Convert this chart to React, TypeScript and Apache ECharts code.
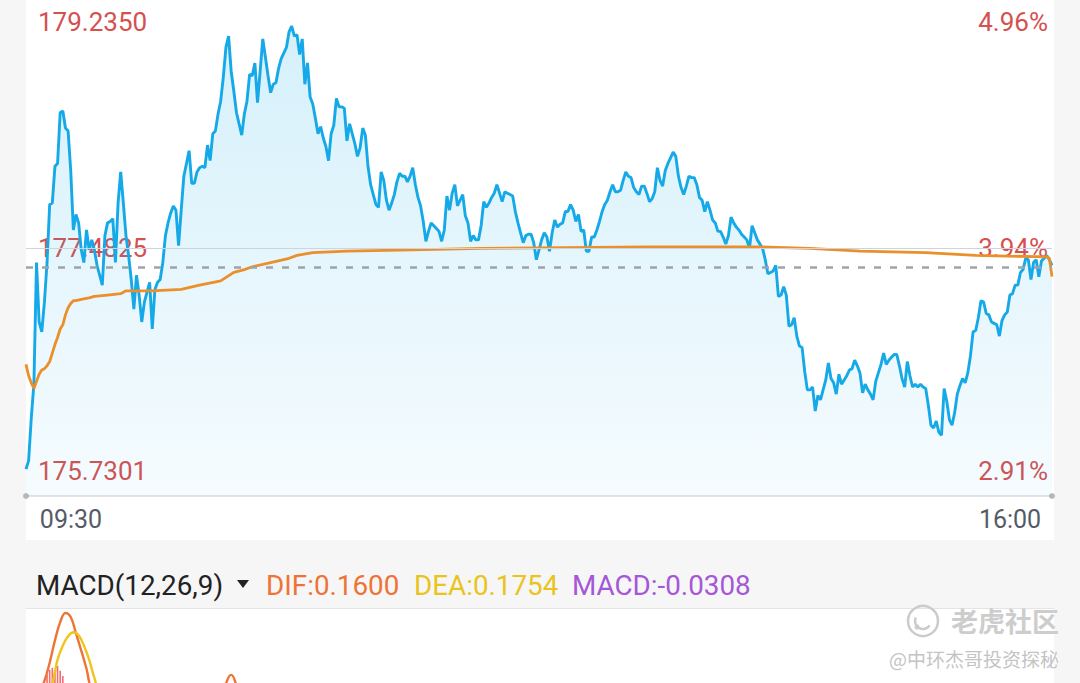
import React, { useEffect, useRef } from "react";
import * as echarts from "echarts";

// ---- price (one value per minute, 09:30 -> 16:00) ----
const PRICE: number[] = [
  175.92, 175.98, 176.28, 176.52, 177.38, 176.96, 176.89, 177.10, 177.38, 177.79,
  177.80, 178.06, 178.08, 178.44, 178.45, 178.33, 178.31, 178.03, 177.61, 177.72,
  177.66, 177.47, 177.38, 177.61, 177.47, 177.54, 177.47, 177.36, 177.29, 177.22,
  177.57, 177.66, 177.67, 177.69, 177.38, 177.80, 178.02, 177.80, 177.57, 177.43,
  177.26, 177.05, 177.29, 177.15, 176.96, 177.10, 177.17, 177.24, 176.91, 177.19,
  177.24, 177.26, 177.38, 177.57, 177.66, 177.73, 177.78, 177.75, 177.50, 177.75,
  177.99, 178.08, 178.17, 177.94, 177.94, 178.02, 178.05, 178.06, 178.05, 178.21,
  178.10, 178.29, 178.31, 178.43, 178.52, 178.69, 178.90, 178.98, 178.73, 178.59,
  178.44, 178.36, 178.28, 178.43, 178.52, 178.71, 178.70, 178.79, 178.51, 178.73,
  178.96, 178.83, 178.70, 178.58, 178.64, 178.65, 178.75, 178.82, 178.86, 178.90,
  179.01, 179.05, 178.98, 178.99, 178.85, 178.96, 178.64, 178.79, 178.55, 178.50,
  178.40, 178.29, 178.34, 178.26, 178.20, 178.10, 178.29, 178.35, 178.54, 178.48,
  178.48, 178.47, 178.24, 178.36, 178.29, 178.22, 178.13, 178.19, 178.33, 178.28,
  178.06, 177.93, 177.86, 177.79, 177.77, 178.02, 177.96, 177.82, 177.75, 177.80,
  177.86, 177.95, 178.01, 177.99, 177.99, 177.95, 177.99, 178.05, 177.93, 177.84,
  177.78, 177.67, 177.53, 177.60, 177.66, 177.64, 177.62, 177.60, 177.53, 177.61,
  177.85, 177.75, 177.87, 177.93, 177.78, 177.82, 177.86, 177.71, 177.66, 177.53,
  177.57, 177.54, 177.54, 177.64, 177.81, 177.77, 177.80, 177.84, 177.87, 177.93,
  177.87, 177.81, 177.88, 177.87, 177.86, 177.85, 177.74, 177.66, 177.59, 177.52,
  177.57, 177.58, 177.58, 177.52, 177.40, 177.47, 177.54, 177.59, 177.56, 177.46,
  177.59, 177.68, 177.63, 177.65, 177.66, 177.74, 177.74, 177.79, 177.75, 177.67,
  177.72, 177.60, 177.61, 177.46, 177.46, 177.56, 177.56, 177.61, 177.67, 177.74,
  177.79, 177.82, 177.88, 177.93, 177.88, 177.88, 177.89, 177.96, 178.02, 177.99,
  177.98, 177.91, 177.88, 177.86, 177.92, 177.92, 177.87, 177.81, 177.83, 177.88,
  178.05, 177.96, 177.92, 178.03, 178.08, 178.12, 178.16, 178.13, 177.99, 177.91,
  177.86, 177.92, 177.99, 177.98, 177.98, 177.93, 177.84, 177.82, 177.74, 177.81,
  177.75, 177.68, 177.66, 177.60, 177.60, 177.56, 177.51, 177.57, 177.70, 177.66,
  177.63, 177.61, 177.58, 177.56, 177.54, 177.48, 177.64, 177.59, 177.54, 177.51,
  177.48, 177.40, 177.30, 177.31, 177.32, 177.36, 177.14, 177.15, 177.21, 177.15,
  176.93, 176.94, 176.99, 176.86, 176.79, 176.78, 176.61, 176.48, 176.48, 176.50,
  176.33, 176.44, 176.41, 176.48, 176.55, 176.67, 176.56, 176.53, 176.45, 176.59,
  176.52, 176.55, 176.58, 176.62, 176.63, 176.69, 176.65, 176.60, 176.46, 176.52,
  176.48, 176.45, 176.41, 176.54, 176.60, 176.66, 176.74, 176.66, 176.69, 176.71,
  176.73, 176.73, 176.65, 176.56, 176.50, 176.68, 176.58, 176.50, 176.52, 176.50,
  176.52, 176.50, 176.49, 176.37, 176.23, 176.21, 176.26, 176.18, 176.16, 176.49,
  176.40, 176.27, 176.23, 176.32, 176.45, 176.51, 176.56, 176.53, 176.60, 176.72,
  176.89, 176.90, 176.99, 177.11, 177.10, 177.02, 177.01, 176.96, 176.95, 176.94,
  176.86, 176.97, 177.01, 177.03, 177.15, 177.16, 177.22, 177.22, 177.31, 177.33,
  177.41, 177.40, 177.26, 177.38, 177.40, 177.28, 177.39, 177.41, 177.43, 177.40,
  177.36,
];

// ---- average price line ----
const AVG_MINUTES: number[] = [
  0, 1, 2, 3, 4, 5, 6, 7, 8, 9, 10, 11, 12, 13, 14, 15, 16, 17, 18, 19, 21, 24, 26, 31,
  36, 38, 48, 59, 66, 74, 79, 83, 86, 93, 100, 103, 109, 122, 147, 173, 237, 279, 298,
  317, 342, 361, 388, 389, 390,
];
const AVG_VALUES: number[] = [
  176.66, 176.58, 176.53, 176.49, 176.54, 176.59, 176.62, 176.63, 176.65, 176.68, 176.74,
  176.80, 176.85, 176.91, 176.94, 177.01, 177.06, 177.09, 177.11, 177.11, 177.12, 177.13,
  177.14, 177.15, 177.16, 177.18, 177.18, 177.19, 177.22, 177.25, 177.31, 177.33, 177.35,
  177.38, 177.41, 177.43, 177.45, 177.46, 177.47, 177.48, 177.49, 177.49, 177.48, 177.46,
  177.45, 177.43, 177.42, 177.41, 177.28,
];

// ---- axes ----
const PRICE_TICKS: number[] = [175.7301, 177.4825, 179.235];
const PREV_CLOSE = 170.76;
const REF_LINE = 177.35;
const SESSION_START = 9 * 60 + 30;
const TIME_TICKS: number[] = [0, 390];

// ---- MACD panel ----
const MACD_PARAMS: number[] = [12, 26, 9];
const MACD_VIEW: number[] = [0.3, 1.0];
const DIF_MINUTES: number[] = [0, 3, 5, 7, 9, 11, 13, 15, 17, 19, 21, 23, 25, 30, 45, 60, 74, 78, 82, 120, 200, 300, 360, 390];
const DIF_VALUES: number[] = [0.0, 0.1, 0.2, 0.32, 0.5, 0.72, 0.9, 0.99, 0.95, 0.79, 0.62, 0.44, 0.24, 0.1, 0.05, 0.12, 0.22, 0.38, 0.22, 0.06, -0.04, -0.15, 0.02, 0.16];
const DEA_MINUTES: number[] = [0, 5, 8, 10, 12, 14, 16, 18, 20, 22, 24, 26, 28, 40, 60, 100, 200, 300, 360, 390];
const DEA_VALUES: number[] = [0.0, 0.12, 0.22, 0.3, 0.53, 0.67, 0.76, 0.8, 0.77, 0.67, 0.53, 0.35, 0.24, 0.15, 0.12, 0.15, 0.02, -0.1, -0.02, 0.1754];
const HIST_MINUTES: number[] = [8, 9, 10, 11, 12, 13, 14];
const HIST_VALUES: number[] = [0.38, 0.43, 0.45, 0.41, 0.47, 0.42, 0.37];

const RED = "#d5504f";
const GREY_TEXT = "#555b66";
const FONT = "Roboto, 'Noto Sans', sans-serif";

function fmtTime(m: number): string {
  const t = SESSION_START + m;
  const hh = String(Math.floor(t / 60)).padStart(2, "0");
  const mm = String(t % 60).padStart(2, "0");
  return `${hh}:${mm}`;
}

function near(a: number, b: number) {
  return Math.abs(a - b) < 1e-6;
}

function labelKey(v: number) {
  if (near(v, PRICE_TICKS[2])) return "t";
  if (near(v, PRICE_TICKS[0])) return "b";
  return "m";
}

export default function App() {
  const ref = useRef<HTMLDivElement>(null);

  useEffect(() => {
    if (!ref.current) return;
    const chart = echarts.init(ref.current, undefined, { renderer: "svg" });

    const lastDIF = DIF_VALUES[DIF_VALUES.length - 1];
    const lastDEA = DEA_VALUES[DEA_VALUES.length - 1];
    const lastMACD = 2 * (lastDIF - lastDEA);

    const yRich = (align: string) => {
      const base = { fontSize: 26, color: RED, fontFamily: FONT, align };
      return {
        t: { ...base, padding: [44, 0, 0, 0] },
        b: { ...base, padding: [0, 0, 50, 0] },
        m: { ...base, padding: [0, 0, 0, 0] },
      };
    };

    const option: any = {
      animation: false,
      backgroundColor: "#f6f6f6",
      grid: [
        { left: 26, right: 28, top: -5, bottom: 187 },
        { left: 26, right: 28, top: 612, bottom: 0 },
      ],
      xAxis: [
        {
          type: "value",
          gridIndex: 0,
          min: 0,
          max: 390,
          axisLine: { show: true, onZero: false, lineStyle: { color: "#e3e3e3", width: 2 } },
          axisTick: { show: false },
          splitLine: { show: false },
          axisLabel: {
            customValues: TIME_TICKS,
            margin: 11,
            formatter: (v: number) => (v === TIME_TICKS[0] ? `{l|${fmtTime(v)}}` : `{r|${fmtTime(v)}}`),
            rich: {
              l: { fontSize: 25, color: GREY_TEXT, fontFamily: FONT, padding: [0, 0, 0, 90] },
              r: { fontSize: 25, color: GREY_TEXT, fontFamily: FONT, padding: [0, 84, 0, 0] },
            },
          },
        },
        { type: "value", gridIndex: 1, min: 0, max: 390, show: false },
      ],
      yAxis: [
        {
          type: "value",
          gridIndex: 0,
          position: "left",
          min: PRICE_TICKS[0],
          max: PRICE_TICKS[2],
          axisLine: { show: false },
          axisTick: { show: false },
          splitLine: { show: false },
          axisLabel: {
            inside: true,
            margin: 12,
            customValues: PRICE_TICKS,
            formatter: (v: number) => `{${labelKey(v)}|${v.toFixed(4)}}`,
            rich: yRich("left"),
          },
        },
        {
          type: "value",
          gridIndex: 0,
          position: "right",
          min: PRICE_TICKS[0],
          max: PRICE_TICKS[2],
          axisLine: { show: false },
          axisTick: { show: false },
          splitLine: { show: false },
          axisLabel: {
            inside: true,
            margin: 4,
            customValues: PRICE_TICKS,
            formatter: (v: number) =>
              `{${labelKey(v)}|${((v / PREV_CLOSE - 1) * 100).toFixed(2)}%}`,
            rich: yRich("right"),
          },
        },
        { type: "value", gridIndex: 1, min: MACD_VIEW[0], max: MACD_VIEW[1], show: false },
      ],
      series: [
        {
          type: "line",
          xAxisIndex: 0,
          yAxisIndex: 0,
          data: PRICE.map((v, i) => [i, v]),
          symbol: "none",
          showSymbol: false,
          z: 3,
          lineStyle: { color: "#16a9e7", width: 2.9 },
          areaStyle: {
            origin: "start",
            color: new echarts.graphic.LinearGradient(0, 0, 0, 1, [
              { offset: 0, color: "rgba(26,174,232,0.26)" },
              { offset: 1, color: "rgba(26,174,232,0.06)" },
            ]),
          },
          markLine: {
            silent: true,
            symbol: ["none", "none"],
            label: { show: false },
            animation: false,
            data: [
              { yAxis: PRICE_TICKS[1], lineStyle: { color: "#cdd4dd", width: 1, type: "solid" } },
              { yAxis: REF_LINE, lineStyle: { color: "#9ea2aa", width: 2.5, type: [7, 9] } },
            ],
          },
        },
        {
          type: "line",
          xAxisIndex: 0,
          yAxisIndex: 0,
          data: AVG_MINUTES.map((m, i) => [m, AVG_VALUES[i]]),
          symbol: "none",
          showSymbol: false,
          z: 4,
          lineStyle: { color: "#eb8f2a", width: 2.8 },
        },
        {
          type: "scatter",
          xAxisIndex: 0,
          yAxisIndex: 0,
          data: [
            [TIME_TICKS[0], PRICE_TICKS[0]],
            [TIME_TICKS[1], PRICE_TICKS[0]],
          ],
          symbolSize: 6,
          clip: false,
          silent: true,
          z: 5,
          itemStyle: { color: "#a9a9a9" },
        },
        {
          type: "bar",
          xAxisIndex: 1,
          yAxisIndex: 2,
          data: HIST_MINUTES.map((m, i) => [m, HIST_VALUES[i]]),
          barWidth: 1.6,
          itemStyle: { color: "#f26d6d" },
        },
        {
          type: "line",
          xAxisIndex: 1,
          yAxisIndex: 2,
          data: DIF_MINUTES.map((m, i) => [m, DIF_VALUES[i]]),
          symbol: "none",
          smooth: 0.4,
          lineStyle: { color: "#ee7436", width: 2.4 },
        },
        {
          type: "line",
          xAxisIndex: 1,
          yAxisIndex: 2,
          data: DEA_MINUTES.map((m, i) => [m, DEA_VALUES[i]]),
          symbol: "none",
          smooth: 0.4,
          lineStyle: { color: "#eec41e", width: 2.4 },
        },
      ],
      graphic: [
        { type: "rect", z: -10, silent: true, shape: { x: 26, y: 0, width: 1028, height: 540 }, style: { fill: "#ffffff" } },
        { type: "rect", z: -10, silent: true, shape: { x: 26, y: 609, width: 1028, height: 80 }, style: { fill: "#ffffff" } },
        { type: "line", z: -9, silent: true, shape: { x1: 26, y1: 608.5, x2: 1054, y2: 608.5 }, style: { stroke: "#e4e4e4", lineWidth: 1 } },
        {
          type: "text", x: 36, y: 585, z: 10,
          style: { text: `MACD(${MACD_PARAMS.join(",")})`, fill: "#222222", fontSize: 27.8, fontFamily: FONT, verticalAlign: "middle" },
        },
        { type: "polygon", z: 10, shape: { points: [[237, 580], [249, 580], [243, 588]] }, style: { fill: "#222222" } },
        {
          type: "text", x: 266, y: 585, z: 10,
          style: { text: `DIF:${lastDIF.toFixed(4)}`, fill: "#ee7436", fontSize: 27.8, fontFamily: FONT, verticalAlign: "middle" },
        },
        {
          type: "text", x: 414, y: 585, z: 10,
          style: { text: `DEA:${lastDEA.toFixed(4)}`, fill: "#e9c41c", fontSize: 27.8, fontFamily: FONT, verticalAlign: "middle" },
        },
        {
          type: "text", x: 572, y: 585, z: 10,
          style: { text: `MACD:${lastMACD.toFixed(4)}`, fill: "#a557d8", fontSize: 27.8, fontFamily: FONT, verticalAlign: "middle" },
        },
        // watermark
        { type: "circle", z: 20, silent: true, shape: { cx: 923, cy: 621, r: 15 }, style: { fill: "none", stroke: "#cbcbcb", lineWidth: 2.5 } },
        { type: "arc", z: 20, silent: true, shape: { cx: 923, cy: 621, r: 8, startAngle: 0.6, endAngle: 3.6 }, style: { fill: "none", stroke: "#cbcbcb", lineWidth: 2.5 } },
        { type: "circle", z: 20, silent: true, shape: { cx: 917, cy: 627, r: 2.5 }, style: { fill: "#cbcbcb" } },
        {
          type: "text", x: 951, y: 620, z: 20, silent: true,
          style: { text: "老虎社区", fill: "#cdcdcd", fontSize: 27, fontWeight: "bold", fontFamily: "'Noto Sans CJK SC', sans-serif", verticalAlign: "middle" },
        },
        {
          type: "text", x: 889, y: 658, z: 20, silent: true,
          style: { text: "@中环杰哥投资探秘", fill: "#c4c4c4", stroke: "rgba(255,255,255,0.9)", lineWidth: 2, fontSize: 19, fontFamily: "'Noto Sans CJK SC', sans-serif", verticalAlign: "middle" },
        },
      ],
    };

    chart.setOption(option);
    return () => chart.dispose();
  }, []);

  return (
    <div
      ref={ref}
      style={{ position: "fixed", left: 0, top: 0, width: 1080, height: 683 }}
    />
  );
}
